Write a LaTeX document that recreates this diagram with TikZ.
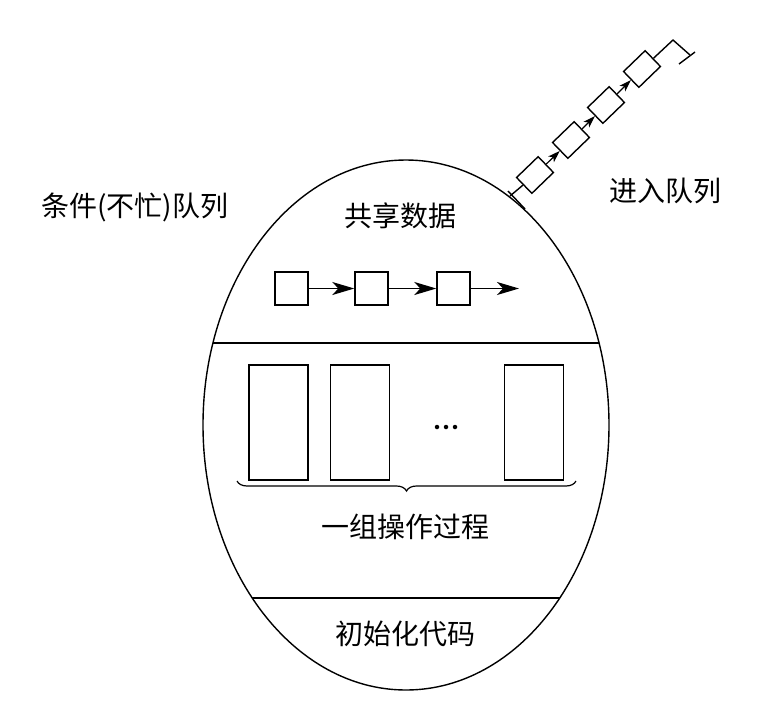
\documentclass[tikz,border=0pt]{standalone}
\usepackage{fontspec}
\setmainfont{Noto Sans CJK SC}
\usetikzlibrary{arrows.meta,decorations.pathreplacing}
\begin{document}
\begin{tikzpicture}[x=1pt,y=-1pt,line width=1.4pt,
  lbl/.style={font=\fontsize{28}{30}\selectfont,inner sep=0},
  sq/.style={draw,minimum width=33pt,minimum height=33pt,inner sep=0},
  proc/.style={draw,minimum width=59pt,minimum height=115pt,inner sep=0},
  qb/.style={draw,minimum width=30pt,minimum height=22pt,inner sep=0,rotate=44,fill=white},
  arr/.style={-{Stealth[length=22pt,width=13pt,inset=6pt]}},
  sarr/.style={line width=1.2pt,-{Stealth[length=12pt,width=8pt,inset=3pt]}},
  dot/.style={fill,circle,inner sep=0,minimum size=4.5pt}]
\useasboundingbox (0,0) rectangle (780,705);
\draw (406,425) ellipse [x radius=203, y radius=265];
\coordinate (l1a) at (213,343); \coordinate (l1b) at (599,343);
\draw (l1a) -- (l1b);
\coordinate (l2a) at (252,598); \coordinate (l2b) at (560,598);
\draw (l2a) -- (l2b);
\node[lbl] (cond) at (135,207) {条件(不忙)队列};
\node[lbl] (enter) at (665,191) {进入队列};
\node[lbl] (share) at (400,216) {共享数据};
\node[lbl] (ops) at (405,527) {一组操作过程};
\node[lbl] (init) at (405,634) {初始化代码};
\node[sq] (s1) at (291.5,288.5) {};
\node[sq] (s2) at (371.5,288.5) {};
\node[sq] (s3) at (453.5,288.5) {};
\coordinate (send) at (519,288.5);
\draw[arr] (s1) -- (s2);
\draw[arr] (s2) -- (s3);
\draw[arr] (s3) -- (send);
\node[proc] (p1) at (278.5,422.5) {};
\node[proc] (p2) at (360,422.5) {};
\node[proc] (p3) at (534,422.5) {};
\node[dot] (d1) at (437,427) {};
\node[dot] (d2) at (446,427) {};
\node[dot] (d3) at (455,427) {};
\coordinate (ba) at (237,481); \coordinate (bb) at (576,481);
\draw[line width=1.2pt,decorate,decoration={brace,mirror,amplitude=10pt}] (ba) -- (bb);
% entry queue
\node[qb] (q1) at (535,175) {};
\node[qb] (q2) at (571,140) {};
\node[qb] (q3) at (606,105) {};
\node[qb] (q4) at (642,69) {};
\coordinate (qs) at (510,196);
\coordinate (t1a) at (508,191); \coordinate (t1b) at (525,209);
\draw (qs) -- (q1);
\draw (t1a) -- (t1b);
\draw[sarr] (q1) -- (q2);
\draw[sarr] (q2) -- (q3);
\draw[sarr] (q3) -- (q4);
\coordinate (qe1) at (673,40); \coordinate (qe2) at (690,55);
\coordinate (t2a) at (679,64); \coordinate (t2b) at (695,52);
\draw (q4) -- (qe1) -- (qe2);
\draw (t2a) -- (t2b);
\end{tikzpicture}
\end{document}
